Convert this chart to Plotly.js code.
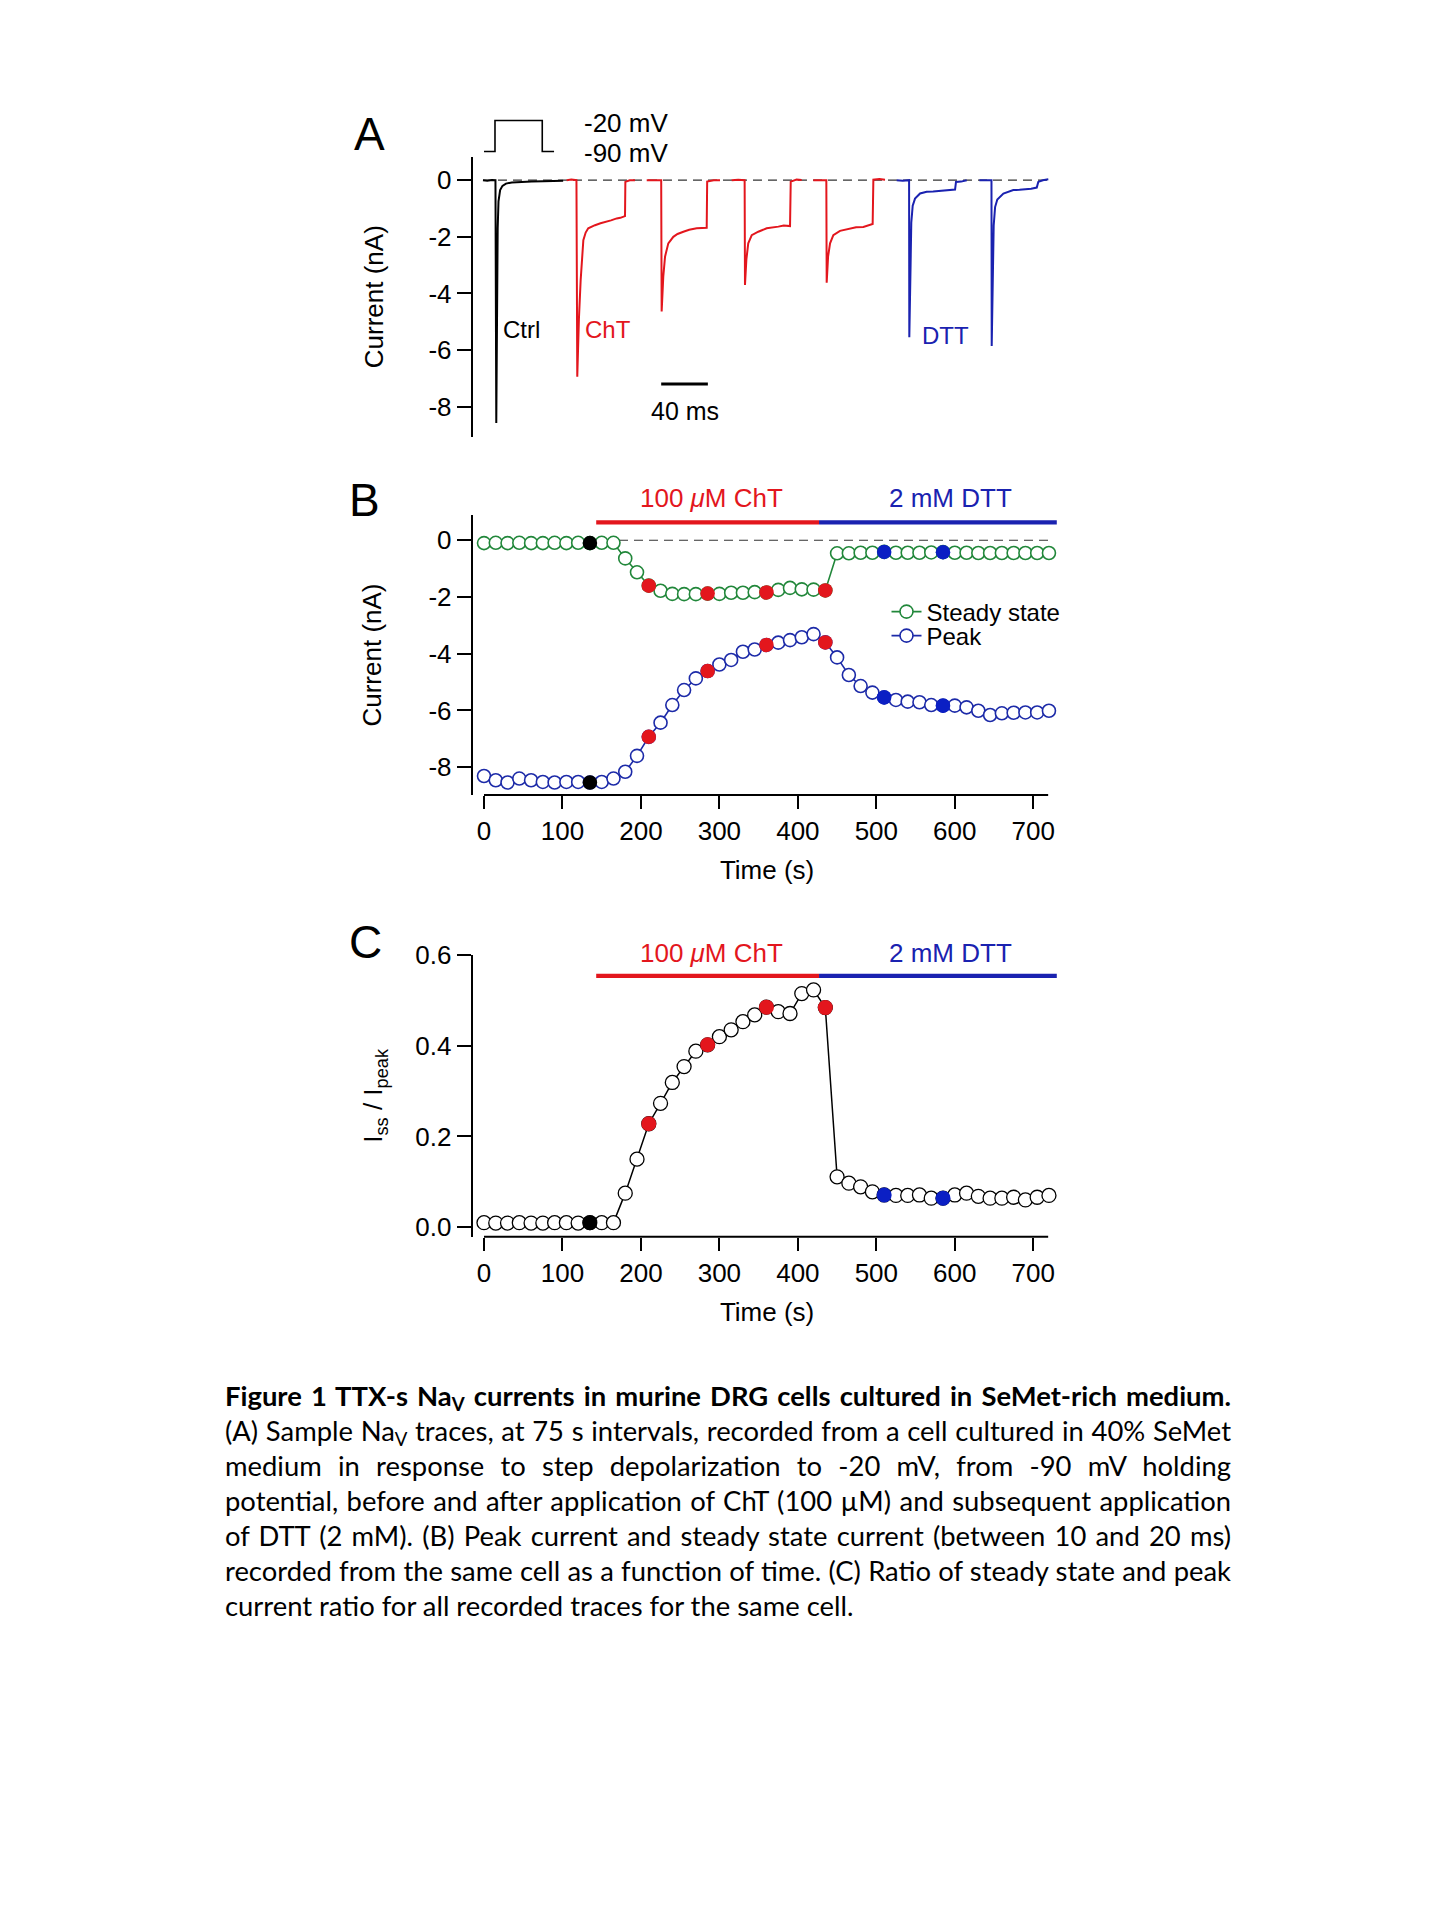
<!DOCTYPE html>
<html>
<head>
<meta charset="utf-8">
<script src="https://cdn.plot.ly/plotly-3.0.1.min.js"></script>
<style>
  html, body { margin: 0; padding: 0; background: #fff; }
  #wrap { position: relative; width: 1440px; height: 1920px; }
  #chart { position: absolute; left: 0; top: 0; width: 1440px; height: 1920px; }
  #caption {
    position: absolute; left: 225px; top: 1378px; width: 1006px;
    font-family: Lato, "Open Sans", sans-serif; font-size: 27.4px; line-height: 35px; color: #000;
  }
  #caption .ln { white-space: nowrap; text-align: justify; text-align-last: justify; height: 35px; }
  #caption .last { text-align-last: left; }
  #caption b { font-weight: 700; }
  #caption sub { font-size: 0.68em; line-height: 0; vertical-align: -0.28em; }
</style>
</head>
<body>
<div id="wrap">
  <div id="chart"></div>
  <div id="caption">
    <div class="ln"><b>Figure 1 TTX-s Na<sub>V</sub> currents in murine DRG cells cultured in SeMet-rich medium.</b></div>
    <div class="ln">(A) Sample Na<sub>V</sub> traces, at 75 s intervals, recorded from a cell cultured in 40% SeMet</div>
    <div class="ln">medium in response to step depolarization to -20 mV, from -90 mV holding</div>
    <div class="ln">potential, before and after application of ChT (100 µM) and subsequent application</div>
    <div class="ln">of DTT (2 mM). (B) Peak current and steady state current (between 10 and 20 ms)</div>
    <div class="ln">recorded from the same cell as a function of time. (C) Ratio of steady state and peak</div>
    <div class="ln last">current ratio for all recorded traces for the same cell.</div>
  </div>
</div>
<script>
// ---------------- DATA ----------------
// Panel A: sample current traces (time in ms along the concatenated record, current in nA)
const ctrlTime = [8.3, 12, 16, 19.0, 19.7, 20.3, 20.9, 21.6, 23.0, 25.0, 28, 33, 40, 50, 60, 70, 77];
const ctrlCurrent = [0, -0.02, 0.01, 0, -8.58, -4.2, -1.7, -0.75, -0.35, -0.2, -0.12, -0.08, -0.06, -0.05, -0.04, -0.03, -0.02];

const cht1Time = [80.0, 84, 88.4, 89.1, 90.5, 92.0, 94.3, 96.3, 98.5, 101, 104.3, 109, 114.3, 118, 122.9, 126, 130.0, 130.3, 134, 138.6];
const cht1Current = [0, 0.02, 0, -6.94, -4.9, -3.53, -2.12, -1.85, -1.70, -1.64, -1.59, -1.52, -1.47, -1.42, -1.35, -1.33, -1.27, -0.06, 0.0, 0.0];

const cht2Time = [148.6, 154, 161.0, 161.4, 162.8, 164.3, 167.1, 171.4, 175, 180.0, 185, 191.4, 196, 200.0, 200.4, 206, 211.4];
const cht2Current = [0, 0.01, 0, -4.64, -3.4, -2.7, -2.23, -2.0, -1.9, -1.82, -1.75, -1.70, -1.68, -1.68, -0.05, 0.0, 0.0];

const cht3Time = [221.4, 227, 232.5, 232.8, 234.0, 235.6, 238.6, 244.2, 251.4, 256, 261.4, 266, 271.4, 272.0, 277, 281.4];
const cht3Current = [0, 0.02, 0, -3.70, -2.8, -2.23, -1.94, -1.82, -1.70, -1.68, -1.64, -1.60, -1.62, -0.05, 0.02, 0.01];

const cht4Time = [291.3, 297, 302.5, 302.8, 304.0, 305.7, 308.5, 314.2, 322.8, 328, 334.2, 338, 342.2, 342.8, 348, 352.8];
const cht4Current = [0, 0.01, 0, -3.62, -2.7, -2.23, -1.94, -1.79, -1.70, -1.66, -1.65, -1.60, -1.55, 0.02, 0.04, 0.02];

const dtt1Time = [362.8, 368, 373.4, 373.6, 374.7, 375.3, 376.5, 378.5, 382.8, 388.5, 394, 399.9, 406, 412.8, 413.6, 418, 422.8];
const dtt1Current = [0, -0.02, 0, -5.55, -3.0, -1.5, -0.9, -0.65, -0.47, -0.41, -0.40, -0.38, -0.36, -0.33, -0.06, -0.05, 0.0];

const dtt2Time = [433.6, 439, 444.0, 444.2, 445.3, 445.9, 447.1, 449.0, 454.2, 462.7, 468, 474.2, 478, 482.8, 484.1, 488, 492.7];
const dtt2Current = [0, 0.01, 0, -5.86, -3.2, -1.6, -0.95, -0.68, -0.47, -0.35, -0.34, -0.33, -0.30, -0.26, -0.06, 0.0, 0.03];

// voltage protocol inset (ms, mV)
const protoTime = [9.2, 18.6, 18.6, 59.1, 59.1, 69.2];
const protoVolt = [-90, -90, -20, -20, -90, -90];

// Panel B / C: time course (s)
const times = [0, 15, 30, 45, 60, 75, 90, 105, 120, 135, 150, 165, 180, 195, 210, 225, 240, 255, 270, 285,
  300, 315, 330, 345, 360, 375, 390, 405, 420, 435, 450, 465, 480, 495, 510, 525, 540, 555, 570, 585,
  600, 615, 630, 645, 660, 675, 690, 705, 720];

const steadyState = [-0.10, -0.09, -0.10, -0.09, -0.10, -0.10, -0.09, -0.10, -0.09, -0.10, -0.09, -0.09,
  -0.64, -1.13, -1.60, -1.78, -1.89, -1.90, -1.90, -1.88, -1.89, -1.85, -1.85, -1.83, -1.84, -1.75, -1.68,
  -1.73, -1.74, -1.77, -0.46, -0.46, -0.44, -0.44, -0.41, -0.44, -0.44, -0.44, -0.43, -0.42, -0.44, -0.44,
  -0.45, -0.45, -0.45, -0.45, -0.45, -0.45, -0.45];

const peak = [-8.31, -8.46, -8.54, -8.40, -8.46, -8.52, -8.54, -8.52, -8.52, -8.54, -8.52, -8.40, -8.16,
  -7.60, -6.93, -6.43, -5.81, -5.28, -4.87, -4.61, -4.38, -4.22, -3.93, -3.85, -3.69, -3.61, -3.52, -3.42,
  -3.31, -3.60, -4.13, -4.75, -5.14, -5.37, -5.54, -5.63, -5.69, -5.71, -5.81, -5.83, -5.83, -5.89, -6.01,
  -6.16, -6.10, -6.08, -6.07, -6.07, -6.01];

const ratio = [0.010, 0.009, 0.009, 0.010, 0.009, 0.009, 0.010, 0.010, 0.009, 0.010, 0.010, 0.010,
  0.075, 0.150, 0.228, 0.273, 0.319, 0.354, 0.388, 0.402, 0.420, 0.435, 0.453, 0.468, 0.485, 0.475, 0.471,
  0.515, 0.523, 0.484, 0.111, 0.097, 0.089, 0.078, 0.071, 0.070, 0.070, 0.071, 0.064, 0.064, 0.071, 0.075,
  0.068, 0.064, 0.064, 0.066, 0.060, 0.066, 0.070];

// sample traces shown in A are highlighted in B and C
const markTimes = [135, 210, 285, 360, 435, 510, 585];
const markGroup = ['ctrl', 'cht', 'cht', 'cht', 'cht', 'dtt', 'dtt'];

// treatment periods (s)
const chtStart = 143, chtEnd = 427, dttEnd = 730;
const chtLabel = '100 <i>μ</i>M ChT', dttLabel = '2 mM DTT';
const chtLabelTime = 290, dttLabelTime = 595;

// axis ticks
const yTicksA = [0, -2, -4, -6, -8];
const yTickTextA = ['0', '-2', '-4', '-6', '-8'];
const yTicksB = [0, -2, -4, -6, -8];
const yTickTextB = ['0', '-2', '-4', '-6', '-8'];
const yTicksC = [0, 0.2, 0.4, 0.6];
const yTickTextC = ['0.0', '0.2', '0.4', '0.6'];
const xTicks = [0, 100, 200, 300, 400, 500, 600, 700];
const xTickText = ['0', '100', '200', '300', '400', '500', '600', '700'];
const xAxisEnd = 719;

// scale bar (ms)
const scaleBarStart = 161, scaleBarLen = 40, scaleBarLevel = -7.2;

// ---------------- STYLE ----------------
const BLACK = '#000000', RED = '#e3161d', BLUE = '#1a22b0', BLUEFILL = '#0b1fc4', GREEN = '#21873a', PEAKBLUE = '#1c2aa8';
const groupColor = {ctrl: BLACK, cht: RED, dtt: BLUEFILL};
const W = 1440, H = 1920;
const px = v => v / W;
const py = v => 1 - v / H;
const FONT = 'Liberation Sans, Arial, Helvetica, sans-serif';
const FS = 26;

function pick(series) { return markTimes.map(t => series[times.indexOf(t)]); }
const markColors = markGroup.map(g => groupColor[g]);

function tr(x, y, color) {
  return {x: x, y: y, xaxis: 'x', yaxis: 'y', type: 'scatter', mode: 'lines',
    line: {color: color, width: 2}, showlegend: false, hoverinfo: 'skip'};
}

const traces = [
  tr(ctrlTime, ctrlCurrent, BLACK),
  tr(cht1Time, cht1Current, RED),
  tr(cht2Time, cht2Current, RED),
  tr(cht3Time, cht3Current, RED),
  tr(cht4Time, cht4Current, RED),
  tr(dtt1Time, dtt1Current, BLUE),
  tr(dtt2Time, dtt2Current, BLUE),
  {x: protoTime, y: protoVolt, xaxis: 'x', yaxis: 'y2', type: 'scatter', mode: 'lines',
    line: {color: BLACK, width: 1.6}, showlegend: false, hoverinfo: 'skip'},
  // Panel B
  {x: times, y: steadyState, xaxis: 'x3', yaxis: 'y3', type: 'scatter', mode: 'lines+markers', name: 'Steady state',
    legend: 'legend', line: {color: GREEN, width: 1.6},
    marker: {symbol: 'circle', size: 13, color: '#ffffff', line: {color: GREEN, width: 1.6}}, cliponaxis: false},
  {x: times, y: peak, xaxis: 'x3', yaxis: 'y3', type: 'scatter', mode: 'lines+markers', name: 'Peak',
    legend: 'legend2', line: {color: PEAKBLUE, width: 1.6},
    marker: {symbol: 'circle', size: 13, color: '#ffffff', line: {color: PEAKBLUE, width: 1.6}}, cliponaxis: false},
  {x: markTimes, y: pick(steadyState), xaxis: 'x3', yaxis: 'y3', type: 'scatter', mode: 'markers', showlegend: false,
    marker: {size: 14.5, color: markColors}, cliponaxis: false},
  {x: markTimes, y: pick(peak), xaxis: 'x3', yaxis: 'y3', type: 'scatter', mode: 'markers', showlegend: false,
    marker: {size: 14.5, color: markColors}, cliponaxis: false},
  // Panel C
  {x: times, y: ratio, xaxis: 'x4', yaxis: 'y4', type: 'scatter', mode: 'lines+markers', showlegend: false,
    line: {color: BLACK, width: 1.5},
    marker: {symbol: 'circle', size: 14, color: '#ffffff', line: {color: BLACK, width: 1.3}}, cliponaxis: false},
  {x: markTimes, y: pick(ratio), xaxis: 'x4', yaxis: 'y4', type: 'scatter', mode: 'markers', showlegend: false,
    marker: {size: 15, color: markColors}, cliponaxis: false}
];

const xDomain = [px(472.7), px(1061.5)];
const common = {showgrid: false, zeroline: false, linecolor: BLACK, tickcolor: BLACK, fixedrange: true};

function yAx(domain, range, tv, tt, anchor, title, standoff) {
  return Object.assign({}, common, {
    domain: domain, range: range, anchor: anchor, showline: true, linewidth: 2,
    ticks: 'outside', ticklen: 14, tickwidth: 2, tickvals: tv, ticktext: tt,
    tickfont: {size: FS, family: FONT}, ticklabelstandoff: 0,
    title: {text: title, font: {size: FS, family: FONT}, standoff: standoff}
  });
}
function xAx(anchor) {
  return Object.assign({}, common, {
    domain: xDomain, range: [-14.4, 736], anchor: anchor, showline: false,
    ticks: 'outside', ticklen: 13, tickwidth: 2, tickvals: xTicks, ticktext: xTickText,
    tickfont: {size: FS, family: FONT},
    title: {text: 'Time (s)', font: {size: FS, family: FONT}, standoff: 15}
  });
}

const shapes = [
  // zero reference lines
  {type: 'line', xref: 'x', yref: 'y', x0: ctrlTime[0], x1: dtt2Time[dtt2Time.length - 1], y0: 0, y1: 0,
    line: {color: '#333', width: 1.2, dash: '9px,6px'}, layer: 'below'},
  {type: 'line', xref: 'x3', yref: 'y3', x0: times[0], x1: xAxisEnd, y0: 0, y1: 0,
    line: {color: '#333', width: 1.2, dash: '9px,6px'}, layer: 'below'},
  // scale bar
  {type: 'line', xref: 'x', yref: 'y', x0: scaleBarStart, x1: scaleBarStart + scaleBarLen, y0: scaleBarLevel, y1: scaleBarLevel,
    line: {color: BLACK, width: 3}},
  // x axis lines (B, C)
  {type: 'line', xref: 'x3', yref: 'y3 domain', x0: times[0], x1: xAxisEnd, y0: 0, y1: 0, line: {color: BLACK, width: 2}},
  {type: 'line', xref: 'x4', yref: 'y4 domain', x0: times[0], x1: xAxisEnd, y0: 0, y1: 0, line: {color: BLACK, width: 2}},
  // treatment bars B
  {type: 'line', xref: 'x3', yref: 'y3', x0: chtStart, x1: chtEnd, y0: 0.63, y1: 0.63, line: {color: RED, width: 4.3}},
  {type: 'line', xref: 'x3', yref: 'y3', x0: chtEnd, x1: dttEnd, y0: 0.63, y1: 0.63, line: {color: BLUE, width: 4.3}},
  // treatment bars C
  {type: 'line', xref: 'x4', yref: 'y4', x0: chtStart, x1: chtEnd, y0: 0.554, y1: 0.554, line: {color: RED, width: 4.3}},
  {type: 'line', xref: 'x4', yref: 'y4', x0: chtEnd, x1: dttEnd, y0: 0.554, y1: 0.554, line: {color: BLUE, width: 4.3}}
];

function note(text, x, y, opts) {
  return Object.assign({text: text, x: x, y: y, xref: 'paper', yref: 'paper', showarrow: false,
    xanchor: 'center', yanchor: 'middle', font: {size: FS, family: FONT, color: BLACK}}, opts || {});
}
const f = (size, color) => ({size: size, family: FONT, color: color || BLACK});

const annotations = [
  note('A', px(370), py(134), {font: f(46)}),
  note('B', px(364), py(500), {font: f(46)}),
  note('C', px(365), py(942), {font: f(46)}),
  note('-20 mV', px(581.7), py(123), {xanchor: 'left'}),
  note('-90 mV', px(581.7), py(153), {xanchor: 'left'}),
  note('Ctrl', 41.5, -5.29, {xref: 'x', yref: 'y', font: f(24)}),
  note('ChT', 115.7, -5.29, {xref: 'x', yref: 'y', font: f(24, RED)}),
  note('DTT', 404.8, -5.47, {xref: 'x', yref: 'y', font: f(24, BLUE)}),
  note('40 ms', scaleBarStart + scaleBarLen / 2, -8.17, {xref: 'x', yref: 'y', font: f(25)}),
  note(chtLabel, chtLabelTime, py(498), {xref: 'x3', font: f(FS, RED)}),
  note(dttLabel, dttLabelTime, py(498), {xref: 'x3', font: f(FS, BLUE)}),
  note(chtLabel, chtLabelTime, py(953), {xref: 'x4', font: f(FS, RED)}),
  note(dttLabel, dttLabelTime, py(953), {xref: 'x4', font: f(FS, BLUE)})
];

const legendBase = {xanchor: 'left', yanchor: 'middle', bgcolor: 'rgba(0,0,0,0)', borderwidth: 0,
  font: f(24), itemclick: false, itemdoubleclick: false};

const layout = {
  width: W, height: H, margin: {l: 0, r: 0, t: 0, b: 0}, autosize: false,
  paper_bgcolor: '#ffffff', plot_bgcolor: 'rgba(0,0,0,0)',
  font: {family: FONT, size: FS, color: BLACK},
  showlegend: true,
  legend: Object.assign({x: px(886.5), y: py(612)}, legendBase),
  legend2: Object.assign({x: px(886.5), y: py(636)}, legendBase),
  xaxis: {domain: xDomain, range: [-0.5, 504], anchor: 'y', visible: false, fixedrange: true},
  yaxis: yAx([py(436.7), py(156.7)], [-9.06, 0.83], yTicksA, yTickTextA, 'x', 'Current (nA)', 37),
  yaxis2: {domain: [py(156), py(116)], range: [-100, -10], anchor: 'x', visible: false, fixedrange: true},
  xaxis3: xAx('y3'),
  yaxis3: yAx([py(795), py(515)], [-8.98, 0.89], yTicksB, yTickTextB, 'x3', 'Current (nA)', 39),
  xaxis4: xAx('y4'),
  yaxis4: yAx([py(1236.7), py(955)], [-0.021, 0.6], yTicksC, yTickTextC, 'x4', 'I<sub>ss</sub> / I<sub>peak</sub>', 25),
  shapes: shapes,
  annotations: annotations
};

Plotly.newPlot('chart', traces, layout, {staticPlot: true, displayModeBar: false});
</script>
</body>
</html>
